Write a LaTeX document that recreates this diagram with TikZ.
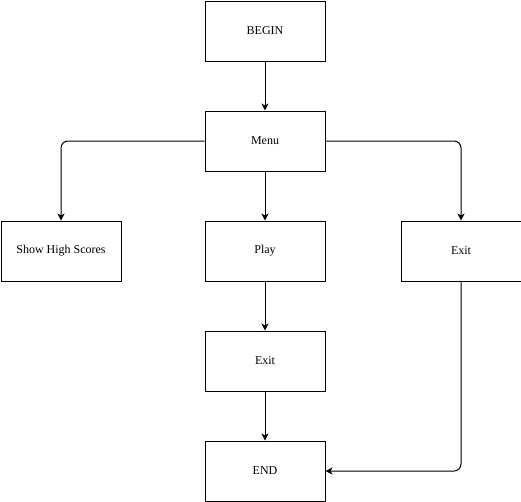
\documentclass[tikz,border=0pt]{standalone}
\usepackage{fontspec}
\setmainfont{Liberation Serif}
\usetikzlibrary{arrows.meta}
\begin{document}
\begin{tikzpicture}[x=1pt,y=-1pt,
  box/.style={draw,line width=1pt,minimum width=120pt,minimum height=60pt,inner sep=0pt,font=\fontsize{12}{14}\selectfont,anchor=north west},
  conn/.style={draw,line width=1pt,-{Stealth[length=7pt,width=7pt,inset=2pt]},rounded corners=7pt}]
\useasboundingbox (0,0) rectangle (521,501);
\node[box] (begin) at (204.5,0.5) {BEGIN};
\node[box] (menu) at (204.5,110.5) {Menu};
\node[box] (hs) at (0.5,220.5) {Show High Scores};
\node[box] (play) at (204.5,220.5) {Play};
\node[box] (exitr) at (400.5,220.5) {Exit};
\node[box] (exitm) at (204.5,330.5) {Exit};
\node[box] (end) at (204.5,440.5) {END};
\draw[conn] (begin) -- (menu);
\draw[conn] (menu) -- (play);
\draw[conn] (play) -- (exitm);
\draw[conn] (exitm) -- (end);
\draw[conn] (menu.west) -| (hs.north);
\draw[conn] (menu.east) -| (exitr.north);
\draw[conn] (exitr.south) |- (end.east);
\end{tikzpicture}
\end{document}
